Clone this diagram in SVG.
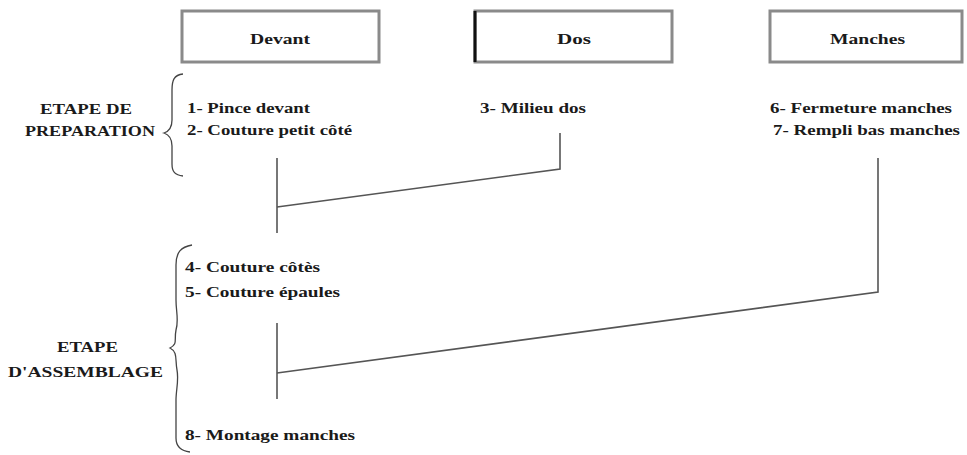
<svg xmlns="http://www.w3.org/2000/svg" width="967" height="455" viewBox="0 0 967 455">
<style>
.box{fill:#fff;stroke:#8a8a8a;stroke-width:3}
.t{font-family:'Liberation Serif','DejaVu Serif','Times New Roman',serif;font-weight:bold;font-size:15px;fill:#1a1a1a}
.ln{fill:none;stroke:#555;stroke-width:1.6}
.br{fill:none;stroke:#444;stroke-width:1.3}
</style>
<rect width="967" height="455" fill="#fff"/>
<g id="devant">
<rect class="box" x="182" y="11" width="197" height="51"/>
<text class="t" font-family="Liberation Serif, serif" x="250" y="44" textLength="60" lengthAdjust="spacingAndGlyphs">Devant</text>
</g>
<g id="dos">
<rect class="box" x="475" y="11" width="197" height="51"/>
<line x1="475" y1="11" x2="475" y2="62" stroke="#111" stroke-width="3"/>
<text class="t" font-family="Liberation Serif, serif" x="557" y="44" textLength="34" lengthAdjust="spacingAndGlyphs">Dos</text>
</g>
<g id="manches">
<rect class="box" x="770" y="11" width="192" height="51"/>
<text class="t" font-family="Liberation Serif, serif" x="830" y="44" textLength="75" lengthAdjust="spacingAndGlyphs">Manches</text>
</g>
<g id="etape-preparation">
<text class="t" font-family="Liberation Serif, serif" x="40" y="114" textLength="92" lengthAdjust="spacingAndGlyphs">ETAPE DE</text>
<text class="t" font-family="Liberation Serif, serif" x="25" y="136" textLength="130" lengthAdjust="spacingAndGlyphs">PREPARATION</text>
<path class="br" d="M183,74 C174,75 172,80 172,90 L172,120 C172,127 170,131 164,133 C170,135 172,139 172,146 L172,164 C172,172 175,175 183,176"/>
</g>
<g id="devant-steps">
<text class="t" font-family="Liberation Serif, serif" x="187" y="113" textLength="123" lengthAdjust="spacingAndGlyphs">1- Pince devant</text>
<text class="t" font-family="Liberation Serif, serif" x="187" y="135" textLength="165" lengthAdjust="spacingAndGlyphs">2- Couture petit côté</text>
</g>
<g id="dos-steps">
<text class="t" font-family="Liberation Serif, serif" x="480" y="113" textLength="106" lengthAdjust="spacingAndGlyphs">3- Milieu dos</text>
</g>
<g id="manches-steps">
<text class="t" font-family="Liberation Serif, serif" x="770" y="113" textLength="182" lengthAdjust="spacingAndGlyphs">6- Fermeture manches</text>
<text class="t" font-family="Liberation Serif, serif" x="773" y="135" textLength="187" lengthAdjust="spacingAndGlyphs">7- Rempli bas manches</text>
</g>
<g id="etape-assemblage">
<text class="t" font-family="Liberation Serif, serif" x="57" y="352" textLength="61" lengthAdjust="spacingAndGlyphs">ETAPE</text>
<text class="t" font-family="Liberation Serif, serif" x="8" y="377" textLength="155" lengthAdjust="spacingAndGlyphs">D'ASSEMBLAGE</text>
<path class="br" d="M192,245 C181,247 176,252 176,265 L176,300 C176,312 179,320 176,330 C174,340 178,344 170,348 C178,352 175,360 177,370 C179,380 176,390 176,400 L176,438 C176,447 181,451 190,452"/>
</g>
<g id="assemblage-steps">
<text class="t" font-family="Liberation Serif, serif" x="185" y="272" textLength="135" lengthAdjust="spacingAndGlyphs">4- Couture côtès</text>
<text class="t" font-family="Liberation Serif, serif" x="185" y="297" textLength="155" lengthAdjust="spacingAndGlyphs">5- Couture épaules</text>
<text class="t" font-family="Liberation Serif, serif" x="185" y="440" textLength="170" lengthAdjust="spacingAndGlyphs">8- Montage manches</text>
</g>
<g id="connectors">
<path class="ln" d="M277,158 L277,233"/>
<path class="ln" d="M560,133 L560,169 L277,207"/>
<path class="ln" d="M277,323 L277,399"/>
<path class="ln" d="M878,158 L878,292 L277,373"/>
</g>
</svg>
